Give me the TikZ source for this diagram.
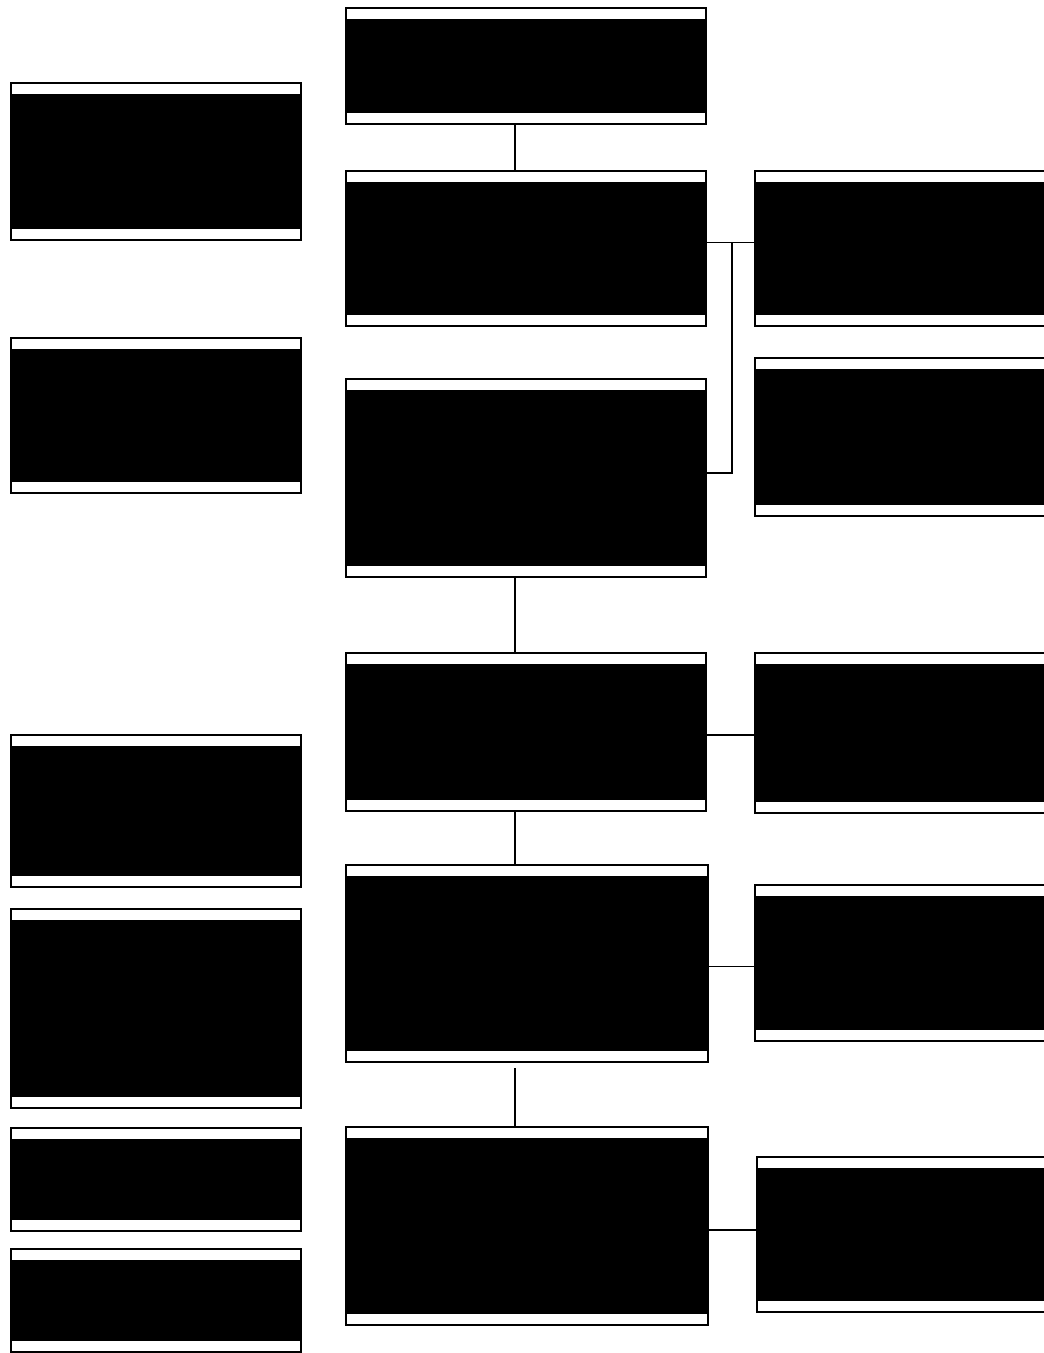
\documentclass[tikz,border=0pt]{standalone}
\usetikzlibrary{calc}
\begin{document}
\begin{tikzpicture}[x=1pt,y=-1pt,
  blk/.style={draw,line width=2pt,fill=white,inner sep=0pt,anchor=north west,
    path picture={\fill[black] ([yshift=-11pt]path picture bounding box.north west) rectangle ([yshift=11pt]path picture bounding box.south east);}},
  ln/.style={line width=1.6pt}]
\useasboundingbox (0,0) rectangle (1044,1353);
% centre column
\foreach \n/\x/\y/\w/\h in {c1/345/7/360/116, c2/345/170/360/155, c3/345/378/360/198,
    c4/345/652/360/158, c5/345/864/362/197, c6/345/1126/362/198}
  \node[blk,minimum width=\w pt,minimum height=\h pt] (\n) at (\x,\y) {};
% left column
\foreach \n/\y/\h in {l1/82/157, l2/337/155, l3/734/152, l4/908/199, l5/1127/103, l6/1248/103}
  \node[blk,minimum width=290pt,minimum height=\h pt] (\n) at (10,\y) {};
% right column, cut by the page edge
\foreach \n/\x/\y/\h in {r1/754/170/155, r2/754/357/158, r3/754/652/160, r4/754/884/156, r5/756/1156/155}
  \node[blk,minimum width=310pt,minimum height=\h pt] (\n) at (\x,\y) {};
\coordinate (spine) at (515,0);
\draw[ln] (c1.south -| spine) -- (c2.north -| spine);
\draw[ln] (c3.south -| spine) -- (c4.north -| spine);
\draw[ln] (c4.south -| spine) -- (c5.north -| spine);
\draw[ln] ([yshift=-5pt]c5.south -| spine) -- (c6.north -| spine);
\draw[ln] ([yshift=6pt]c2.east) -- ([yshift=6pt]r1.west);
\draw[ln] ([yshift=5pt]c3.east) -- ++(25,0) |- ([yshift=6pt]c2.east);
\draw[ln] ([yshift=-3pt]c4.east) -- ([yshift=-3pt]c4.east -| r3.west);
\draw[ln] ([yshift=-3pt]c5.east) -- ([yshift=-3pt]c5.east -| r4.west);
\draw[ln] ([yshift=-4pt]c6.east) -- ([yshift=-4pt]c6.east -| r5.west);
\end{tikzpicture}
\end{document}
